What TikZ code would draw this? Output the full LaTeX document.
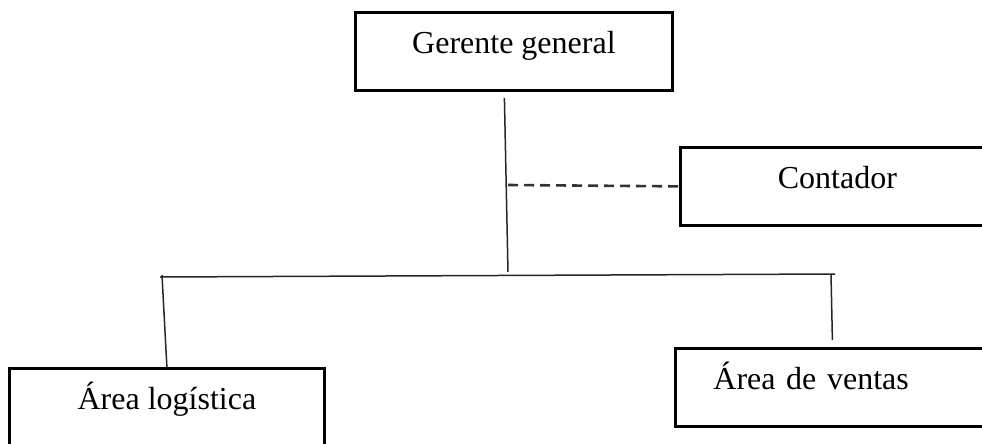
\documentclass[tikz,border=0pt]{standalone}
\usepackage{fontspec}
\setmainfont{Liberation Serif}
\usetikzlibrary{calc,positioning}

\begin{document}
\begin{tikzpicture}[x=1pt,y=-1pt,
    cargo/.style={draw,line width=2.8pt,rectangle,anchor=north west,minimum width=#1,minimum height=78pt,
        inner sep=0pt,text height=22pt,text depth=17pt,font=\fontsize{32}{38}\selectfont},
    linea/.style={line width=1.5pt,black!85},
    apoyo/.style={line width=2.6pt,black!80,dash pattern=on 10pt off 6pt}]
    \useasboundingbox (0,0) rectangle (982,444);
    \clip (0,0) rectangle (982,444);%las cajas de los lados se cortan
    \node[cargo=317pt] (ger) at (354,11) {Gerente general};
    \node[cargo=314pt] (cont) at (679,146) {Contador};
    \node[cargo=314pt,align=left,text width=238pt,inner xsep=38pt] (vent) at (674,347) {Área de ventas};
    \node[cargo=315pt] (log) at (8,367) {Área logística};
    \coordinate (izq) at (160,277);
    \coordinate (der) at (835,274);
    \draw[linea] ($(ger.south)+(-9.5,6)$) -- (508,272);
    \draw[linea] (izq) -- (der);
    \draw[linea] ($(izq)+(2,-2)$) -- (log.north);
    \draw[linea] ($(der)+(-4,0)$) -- ($(vent.north)+(0,-7)$);
    \draw[apoyo] (508,185) -- ($(cont.west)+(4,0)$);
\end{tikzpicture}
\end{document}
